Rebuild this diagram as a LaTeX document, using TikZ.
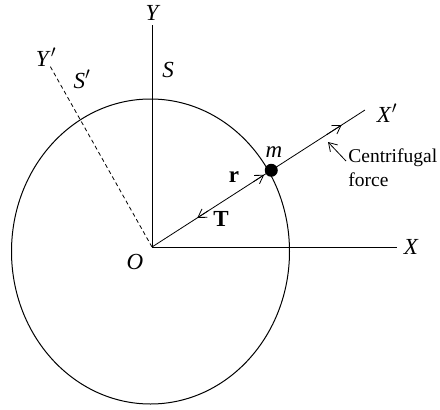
\documentclass[tikz,border=0pt]{standalone}
\usepackage{fontspec}
\setmainfont{Liberation Serif}
\usetikzlibrary{arrows.meta,calc}
\begin{document}
\begin{tikzpicture}[x=1pt,y=-1pt, line width=0.8pt,
  lbl/.style={font=\fontsize{23}{26}\selectfont\itshape, inner sep=0pt},
  blbl/.style={font=\fontsize{23}{26}\selectfont\bfseries, inner sep=0pt},
  txt/.style={font=\fontsize{19.5}{24}\selectfont, inner sep=0pt, align=left, anchor=west},
  bar/.style={-{Straight Barb[length=8pt,width=10pt]}, line width=0.8pt}]
\useasboundingbox (0,0) rectangle (440,410);
\coordinate (O) at (152,247);
\coordinate (Ytop) at (152,25);
\coordinate (Xend) at (397,247);
\coordinate (Xpend) at (365,110);
\coordinate (Ypend) at (50,66);
\coordinate (cf1) at (346,161);
\coordinate (cf2) at (328,142);
\draw (Ytop) -- (O) -- (Xend);
\draw (O) -- (Xpend);
\draw[dash pattern=on 4pt off 3pt] (O) -- (Ypend);
\draw[line width=1pt] (150.5,251.5) ellipse [x radius=139, y radius=152.5];
\node[circle, fill, inner sep=0pt, minimum size=13pt] (m) at ($(O)!0.56!(Xpend)$) {};
\draw[bar] ($(O)!0.85!(m)$) -- ($(O)!0.94!(m)$);
\draw[bar] ($(O)!0.47!(m)$) -- ($(O)!0.38!(m)$);
\draw[bar] ($(O)!0.82!(Xpend)$) -- ($(O)!0.89!(Xpend)$);
\draw[bar] (cf1) -- (cf2);
\node[lbl] (lY) at (152,13) {Y};
\node[lbl] (lX) at (411,247) {X};
\node[lbl] (lXp) at (387,113) {X\/$'$};
\node[lbl] (lYp) at (46,57) {Y\/$'$};
\node[lbl] (lS) at (168,70) {S};
\node[lbl] (lSp) at (82,79) {S\/$'$};
\node[lbl] (lO) at (135,262) {O};
\node[lbl] (lm) at (274,152) {m};
\node[blbl] (lr) at (234,177) {r};
\node[blbl] (lT) at (221,219) {T};
\node[txt] (cf) at (348,168) {Centrifugal\\force};
\end{tikzpicture}
\end{document}
